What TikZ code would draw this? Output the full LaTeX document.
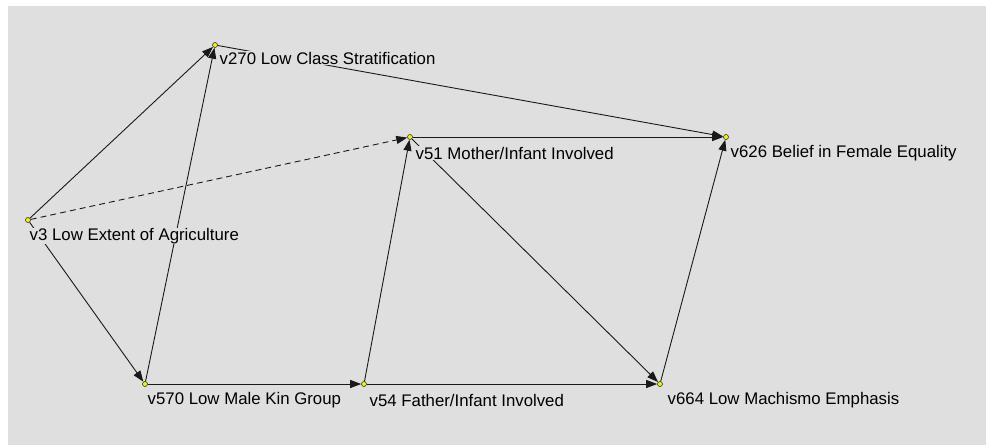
\documentclass[tikz,border=0pt]{standalone}
\usepackage{fontspec}
\setmainfont{Liberation Sans}
\usetikzlibrary{arrows.meta}
\definecolor{panelgray}{RGB}{223,223,223}
\definecolor{dotyellow}{RGB}{240,240,20}
\tikzset{
	path diagram/.cd,
	variable/.style = {
		circle,
		draw = black!80,
		fill = dotyellow,
		inner sep = 0pt,
		minimum size = 5pt,
		line width = 0.6pt
	},
	effect/.style = {
		draw = black!90,
		line width = 0.9pt,
		-{Triangle[length = 11pt, width = 8pt]}
	},
}

\begin{document}
\begin{tikzpicture}[
		x = 1pt, y = -1pt,
		varlabel/.style = {
			anchor = west,
			fill = panelgray,
			inner sep = 0.5pt,
			font = \fontsize{16.8}{18}\selectfont
		}]
		\useasboundingbox (0, 0) rectangle (986, 445);
		\fill[panelgray] (8, 6) rectangle (986, 445);
		% variables
		\node[path diagram/variable] (v270) at (215, 45) {};
		\node[path diagram/variable] (v51) at (410, 137) {};
		\node[path diagram/variable] (v626) at (726, 137) {};
		\node[path diagram/variable] (v3) at (28, 220) {};
		\node[path diagram/variable] (v570) at (145, 384) {};
		\node[path diagram/variable] (v54) at (364, 384) {};
		\node[path diagram/variable] (v664) at (660, 384) {};
		% effects
		\foreach \from/\to in {v3/v270, v570/v270, v3/v570, v570/v54, v54/v51, v54/v664, v51/v664, v51/v626, v270/v626, v664/v626}{
			\draw[path diagram/effect] (\from) -- (\to);
		}
		\draw[path diagram/effect, dash pattern = on 6pt off 4pt] (v3) -- (v51);
		% labels
		\node[varlabel] (v270-label) at (219, 58) {v270 Low Class Stratification};
		\node[varlabel] (v51-label) at (415, 153) {v51 Mother/Infant Involved};
		\node[varlabel] (v626-label) at (730, 153) {v626 Belief in Female Equality};
		\node[varlabel] (v3-label) at (29, 236) {v3 Low Extent of Agriculture};
		\node[varlabel] (v570-label) at (147, 400) {v570 Low Male Kin Group};
		\node[varlabel] (v54-label) at (369, 400) {v54 Father/Infant Involved};
		\node[varlabel] (v664-label) at (667, 400) {v664 Low Machismo Emphasis};
	\end{tikzpicture}
\end{document}
